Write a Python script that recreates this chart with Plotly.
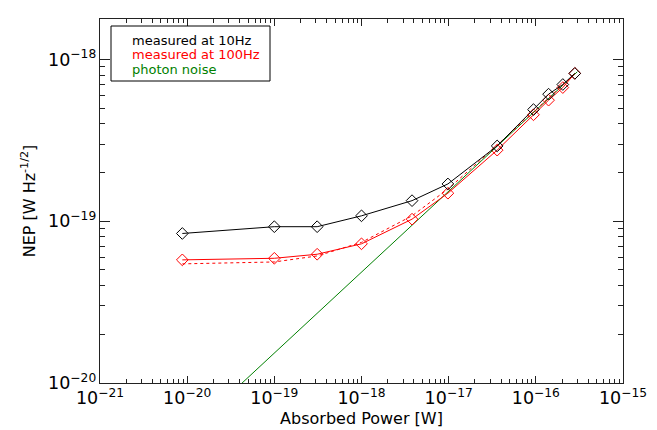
import plotly.graph_objects as go

# Absorbed power [W]
power = [8.8e-21, 1.0e-19, 3.1e-19, 1.0e-18, 3.8e-18, 9.8e-18,
         3.6e-17, 9.4e-17, 1.4e-16, 2.04e-16, 2.8e-16]
# NEP measured at 10 Hz [W Hz^-1/2]
nep_10hz = [8.4e-20, 9.25e-20, 9.25e-20, 1.08e-19, 1.34e-19, 1.70e-19,
            2.92e-19, 4.9e-19, 6.1e-19, 7.0e-19, 8.2e-19]
# NEP measured at 100 Hz
nep_100hz = [5.77e-20, 5.9e-20, 6.25e-20, 7.25e-20, 1.03e-19, 1.49e-19,
             2.75e-19, 4.55e-19, 5.6e-19, 6.7e-19, 8.2e-19]
# dotted curve
nep_dotted = [5.45e-20, 5.6e-20, 6.1e-20, 7.4e-20, 1.08e-19, 1.58e-19,
              2.95e-19, 4.75e-19, 5.8e-19, 6.95e-19, 8.15e-19]
# photon noise line end points
photon_power = [1.0e-20, 3.0e-16]
photon_nep = [4.84e-21, 8.4e-19]

legend_labels = ["measured at 10Hz", "measured at 100Hz", "photon noise"]
legend_colors = ["black", "red", "rgb(0,128,0)"]

W, H = 657, 430
L, R, T, B = 92, 42, 11, 55
pw, ph = W - L - R, H - T - B

fig = go.Figure()
fig.add_trace(go.Scatter(x=photon_power, y=photon_nep, mode="lines",
                         line=dict(color="rgb(0,128,0)", width=1)))
fig.add_trace(go.Scatter(x=power, y=nep_dotted, mode="lines",
                         line=dict(color="red", width=1, dash="dot")))
fig.add_trace(go.Scatter(x=power, y=nep_100hz, mode="lines+markers",
                         line=dict(color="red", width=1),
                         marker=dict(symbol="diamond-open", size=9,
                                     color="red", line=dict(width=1))))
fig.add_trace(go.Scatter(x=power, y=nep_10hz, mode="lines+markers",
                         line=dict(color="black", width=1),
                         marker=dict(symbol="diamond-open", size=9,
                                     color="black", line=dict(width=1))))

font = "DejaVu Sans"
axis_common = dict(type="log", showgrid=False, zeroline=False,
                   showline=True, linecolor="#222", linewidth=1,
                   mirror="ticks", ticks="inside", tickcolor="#222",
                   dtick=1, exponentformat="power", showexponent="all",
                   tickfont=dict(family=font, size=14, color="black"))

fig.update_xaxes(range=[-21, -15], ticklen=7,
                 minor=dict(ticks="inside", ticklen=4, dtick="D1",
                            tickcolor="#222"),
                 title=dict(text="Absorbed Power [W]",
                            font=dict(family=font, size=16, color="black"),
                            standoff=5),
                 **axis_common)
fig.update_yaxes(range=[-20, -17.75], ticklen=10,
                 minor=dict(ticks="inside", ticklen=5, dtick="D1",
                            tickcolor="#222"),
                 title=dict(text="NEP [W Hz<sup>-1/2</sup>]",
                            font=dict(family=font, size=16, color="black"),
                            standoff=8),
                 **axis_common)

def px_x(x):
    return (x - L) / pw

def px_y(y):
    return 1 - (y - T) / ph

# legend box
fig.add_shape(type="rect", xref="paper", yref="paper",
              x0=px_x(103), x1=px_x(262), y0=px_y(73), y1=px_y(18),
              line=dict(color="black", width=1), fillcolor="white")
for i, (lab, col) in enumerate(zip(legend_labels, legend_colors)):
    fig.add_annotation(xref="paper", yref="paper", x=px_x(122),
                       y=px_y(32 + 15 * i), xanchor="left", yanchor="middle",
                       text=lab, showarrow=False,
                       font=dict(family=font, size=13, color=col))

fig.update_layout(width=W, height=H, showlegend=False,
                  margin=dict(l=L, r=R, t=T, b=B),
                  plot_bgcolor="white", paper_bgcolor="white")

fig.write_html("out.html")
